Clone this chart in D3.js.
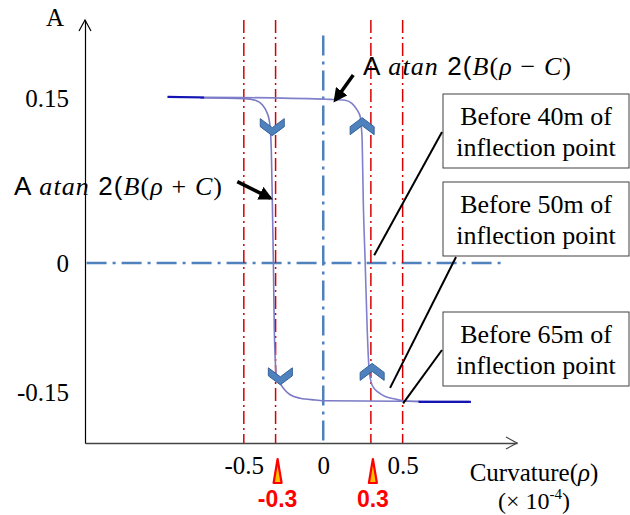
<!DOCTYPE html>
<html>
<head>
<meta charset="utf-8">
<script src="https://cdn.jsdelivr.net/npm/d3@7"></script>
<style>
  body { margin: 0; background: #fff; }
  svg { display: block; }
  .tick text { font-family: "Liberation Serif", "Times New Roman", serif; font-size: 25px; fill: #000; }
</style>
</head>
<body>
<svg id="chart"></svg>
<script>
// tick values on both axes
const xTicks = [-0.5, 0, 0.5]
const yTicks = [-0.15, 0, 0.15]
// red guide lines and the marked points under the axis
const redLines = [-0.5, -0.3, 0.3, 0.5]
const markers = [-0.3, 0.3]
const markerLabels = ['-0.3', '0.3']

// branch A atan2(B(rho + C)) : [rho, A]
const leftBranch = [
  [-0.774, 0.150], [-0.491, 0.1495], [-0.428, 0.148], [-0.384, 0.144], [-0.358, 0.138],
  [-0.340, 0.130], [-0.333, 0.121], [-0.327, 0.103], [-0.321, 0.060], [-0.314, 0.001],
  [-0.308, -0.078], [-0.302, -0.113], [-0.296, -0.130], [-0.270, -0.140], [-0.239, -0.148],
  [-0.208, -0.153], [-0.145, -0.157], [-0.050, -0.159], [0.013, -0.160], [0.50, -0.1605],
  [0.92, -0.161]
]
// branch A atan2(B(rho - C)) : [rho, A]
const rightBranch = [
  [-0.98, 0.151], [-0.50, 0.1505], [0.00, 0.149], [0.044, 0.1488], [0.138, 0.148],
  [0.182, 0.145], [0.214, 0.139], [0.233, 0.133], [0.239, 0.125], [0.245, 0.112],
  [0.252, 0.057], [0.264, 0.001], [0.277, -0.078], [0.289, -0.124], [0.308, -0.142],
  [0.346, -0.150], [0.390, -0.155], [0.453, -0.158], [0.503, -0.160], [0.61, -0.161]
]
// darker overlapping ends of the loop
const topTail = [[-0.98, 0.151], [-0.75, 0.1505]]
const bottomTail = [[0.60, -0.1612], [0.93, -0.1612]]

// direction chevrons on the branches: [rho, A, dir]
const chevrons = [[-0.321, 0.124, 'down'], [-0.270, -0.131, 'down'], [0.245, 0.124, 'up'], [0.308, -0.127, 'up']]

// text boxes and the point each one refers to
const boxLines = [['Before 40m of', 'inflection point'], ['Before 50m of', 'inflection point'], ['Before 65m of', 'inflection point']]
const boxTargets = [[0.321, 0.007], [0.421, -0.145], [0.503, -0.163]]

const width = 630, height = 515

const svg = d3.select('#chart')
  .attr('width', width)
  .attr('height', height)

const x = d3.scaleLinear()
  .domain([-1.5, 1.22])
  .range([85, 517])

// the picture uses different spacing above and below zero
const y = d3.scaleLinear()
  .domain([-0.209, 0, 0.221])
  .range([443, 263, 20])

// guide lines
svg.append('line')
  .attr('x1', x(-1.49)).attr('x2', x(1.14))
  .attr('y1', y(0)).attr('y2', y(0))
  .attr('stroke', '#4f81bd').attr('stroke-width', 2.5)
  .attr('stroke-dasharray', '20,6,3,6')

svg.append('line')
  .attr('x1', x(0)).attr('x2', x(0))
  .attr('y1', y(0.207)).attr('y2', y(-0.209))
  .attr('stroke', '#4f81bd').attr('stroke-width', 2.5)
  .attr('stroke-dasharray', '20,6,3,6')

svg.selectAll('.red-line')
  .data(redLines)
  .join('line')
  .attr('class', 'red-line')
  .attr('x1', d => x(d)).attr('x2', d => x(d))
  .attr('y1', y(0.221)).attr('y2', y(-0.209))
  .attr('stroke', '#d80000').attr('stroke-width', 1.5)
  .attr('stroke-dasharray', '13,4,2,4')

// axes
const xAxis = d3.axisBottom(x).tickValues(xTicks).tickSize(0).tickPadding(13).tickFormat(d => String(d))
const yAxis = d3.axisLeft(y).tickValues(yTicks).tickSize(0).tickPadding(16).tickFormat(d => String(d))

const xAxisG = svg.append('g')
  .attr('transform', `translate(0,${y(-0.209)})`)
  .call(xAxis)
xAxisG.select('.domain').attr('stroke', '#444').attr('stroke-width', 1.5)

const yAxisG = svg.append('g')
  .attr('transform', `translate(${x(-1.5)},0)`)
  .call(yAxis)
yAxisG.select('.domain').attr('stroke', '#000').attr('stroke-width', 1.2)

// open arrow heads at the axis ends
svg.append('path')
  .attr('d', `M${x(-1.5) - 6},${y(0.221) + 11}L${x(-1.5)},${y(0.221)}L${x(-1.5) + 6},${y(0.221) + 11}`)
  .attr('fill', 'none').attr('stroke', '#000').attr('stroke-width', 1.2)
svg.append('path')
  .attr('d', `M${x(1.22) - 11},${y(-0.209) - 6}L${x(1.22)},${y(-0.209)}L${x(1.22) - 11},${y(-0.209) + 6}`)
  .attr('fill', 'none').attr('stroke', '#444').attr('stroke-width', 1.2)

svg.append('text')
  .attr('x', 55).attr('y', 26)
  .attr('text-anchor', 'middle')
  .attr('font-family', 'Liberation Serif, serif').attr('font-size', 25)
  .text('A')

const xTitle = svg.append('text')
  .attr('font-family', 'Liberation Serif, serif').attr('font-size', 25)
  .attr('text-anchor', 'middle')
xTitle.append('tspan').attr('x', 534).attr('y', 481).text('Curvature(')
  .append('tspan').attr('font-style', 'italic').text('ρ')
xTitle.append('tspan').text(')')
const unit = svg.append('text')
  .attr('x', 534).attr('y', 509)
  .attr('font-family', 'Liberation Serif, serif').attr('font-size', 24)
  .attr('text-anchor', 'middle')
unit.append('tspan').text('(× 10')
unit.append('tspan').attr('font-size', 15).attr('dy', -10).text('-4')
unit.append('tspan').attr('dy', 10).text(')')

// loop curves
const line = d3.line()
  .x(d => x(d[0]))
  .y(d => y(d[1]))
  .curve(d3.curveMonotoneX)

svg.append('path')
  .datum(rightBranch)
  .attr('d', line)
  .attr('fill', 'none').attr('stroke', '#8080cc').attr('stroke-width', 1.6)

svg.append('path')
  .datum(leftBranch)
  .attr('d', line)
  .attr('fill', 'none').attr('stroke', '#7a7ac6').attr('stroke-width', 1.6)

svg.selectAll('.tail')
  .data([topTail, bottomTail])
  .join('path')
  .attr('class', 'tail')
  .attr('d', line)
  .attr('fill', 'none').attr('stroke', '#1414b4').attr('stroke-width', 2.2)

// chevrons
const chevronPath = 'M-12,-8L0,1L12,-8L12,0L0,9L-12,0Z'
svg.selectAll('.chevron')
  .data(chevrons)
  .join('path')
  .attr('class', 'chevron')
  .attr('d', chevronPath)
  .attr('transform', d => `translate(${x(d[0])},${y(d[1])}) rotate(${d[2] === 'up' ? 180 : 0})`)
  .attr('fill', '#4f81bd').attr('stroke', '#34619a').attr('stroke-width', 1)

// formula annotations
svg.append('defs').append('marker')
  .attr('id', 'head')
  .attr('viewBox', '0 0 10 10')
  .attr('refX', 8).attr('refY', 5)
  .attr('markerWidth', 4).attr('markerHeight', 4)
  .attr('orient', 'auto')
  .append('path').attr('d', 'M0,0L10,5L0,10Z').attr('fill', '#000')

const formulaArrows = [
  [[-0.541, 0.074], [-0.333, 0.059]],
  [[0.189, 0.171], [0.075, 0.148]]
]
svg.selectAll('.f-arrow')
  .data(formulaArrows)
  .join('line')
  .attr('class', 'f-arrow')
  .attr('x1', d => x(d[0][0])).attr('y1', d => y(d[0][1]))
  .attr('x2', d => x(d[1][0])).attr('y2', d => y(d[1][1]))
  .attr('stroke', '#000').attr('stroke-width', 3.5)
  .attr('marker-end', 'url(#head)')

function formula(xPos, yPos, sign) {
  const t = svg.append('text')
    .attr('x', xPos).attr('y', yPos)
    .attr('font-size', 26)
    .attr('font-family', 'Liberation Serif, serif')
    .attr('textLength', 208).attr('lengthAdjust', 'spacing')
  t.append('tspan').attr('font-family', 'Liberation Sans, sans-serif').text('A ')
  t.append('tspan').attr('font-style', 'italic').text('atan')
  t.append('tspan').attr('font-family', 'Liberation Sans, sans-serif').text(' 2(')
  t.append('tspan').attr('font-style', 'italic').text('B')
  t.append('tspan').text('(')
  t.append('tspan').attr('font-style', 'italic').text('ρ')
  t.append('tspan').text(` ${sign}  `)
  t.append('tspan').attr('font-style', 'italic').text('C')
  t.append('tspan').text(')')
}
formula(14, 195, '+')
formula(363, 75, '−')

// text boxes with leader lines
const boxes = svg.selectAll('.box')
  .data(boxLines)
  .join('g')
  .attr('class', 'box')
  .attr('transform', (d, i) => `translate(443,${[94, 182, 312][i]})`)

boxes.append('rect')
  .attr('width', 186).attr('height', 74)
  .attr('fill', '#fff').attr('stroke', '#404040').attr('stroke-width', 1)

boxes.selectAll('text')
  .data(d => d)
  .join('text')
  .attr('x', 93).attr('y', (d, i) => 31 + i * 31)
  .attr('text-anchor', 'middle')
  .attr('font-family', 'Liberation Serif, serif').attr('font-size', 26)
  .text(d => d)

const leaderStarts = [[442, 132], [456, 257], [442, 350]]
svg.selectAll('.leader')
  .data(boxTargets)
  .join('line')
  .attr('class', 'leader')
  .attr('x1', (d, i) => leaderStarts[i][0]).attr('y1', (d, i) => leaderStarts[i][1])
  .attr('x2', d => x(d[0])).attr('y2', d => y(d[1]))
  .attr('stroke', '#000').attr('stroke-width', 2)

// red markers under the axis
svg.selectAll('.marker')
  .data(markers)
  .join('path')
  .attr('class', 'marker')
  .attr('d', d => `M${x(d) + 2},459L${x(d) + 6},483L${x(d) - 2},483Z`)
  .attr('fill', '#ffc000').attr('stroke', '#ff0000').attr('stroke-width', 2.2)
  .attr('stroke-linejoin', 'round')

svg.selectAll('.marker-label')
  .data(markers)
  .join('text')
  .attr('class', 'marker-label')
  .attr('x', d => x(d) + 2).attr('y', 507)
  .attr('text-anchor', 'middle')
  .attr('font-family', 'Liberation Sans, Arial, sans-serif').attr('font-weight', 'bold')
  .attr('font-size', 23).attr('fill', '#ff0000')
  .text((d, i) => markerLabels[i])
</script>
</body>
</html>
